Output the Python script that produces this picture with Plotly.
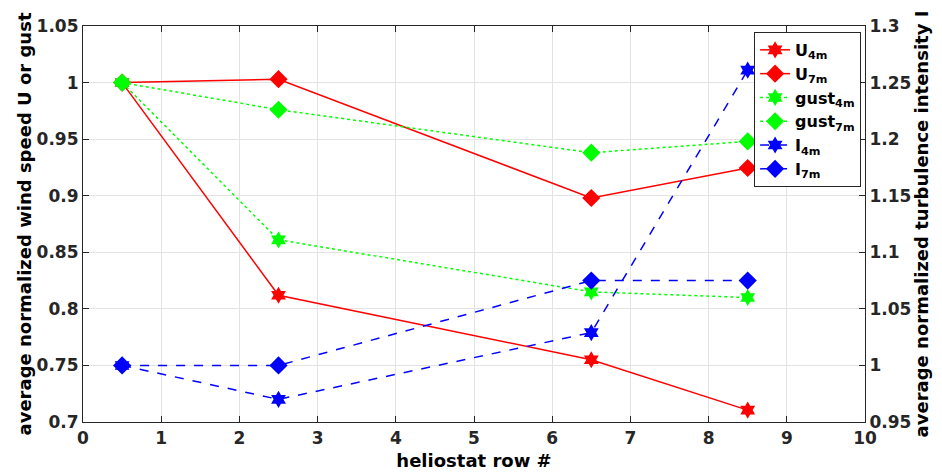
import plotly.graph_objects as go

rows = [0.5, 2.5, 6.5, 8.5]
U_4m = [1.0, 0.812, 0.755, 0.7105]
U_7m = [1.0, 1.003, 0.898, 0.9245]
gust_4m = [1.0, 0.861, 0.815, 0.81]
gust_7m = [1.0, 0.976, 0.938, 0.948]
I_4m = [1.0, 0.97, 1.029, 1.261]
I_7m = [1.0, 1.0, 1.075, 1.075]

x_ticks = [0, 1, 2, 3, 4, 5, 6, 7, 8, 9, 10]
y_ticks = [0.7, 0.75, 0.8, 0.85, 0.9, 0.95, 1.0, 1.05]
y_labels = ["0.7", "0.75", "0.8", "0.85", "0.9", "0.95", "1", "1.05"]
y2_ticks = [0.95, 1.0, 1.05, 1.1, 1.15, 1.2, 1.25, 1.3]
y2_labels = ["0.95", "1", "1.05", "1.1", "1.15", "1.2", "1.25", "1.3"]

FONT = "DejaVu Sans"
RED = "#ff0000"
GREEN = "#00ff00"
BLUE = "#0000ff"

fig = go.Figure()

def add(name, y, color, symbol, dash, axis, msize):
    fig.add_trace(go.Scatter(
        x=rows, y=y, name=name, mode="lines+markers", yaxis=axis,
        line=dict(color=color, width=1.5, dash=dash),
        marker=dict(symbol=symbol, size=msize, color=color, line=dict(width=0)),
    ))

add("U<sub>4m</sub>", U_4m, RED, "hexagram", "solid", "y", 13)
add("U<sub>7m</sub>", U_7m, RED, "diamond", "solid", "y", 14)
add("gust<sub>4m</sub>", gust_4m, GREEN, "hexagram", "dot", "y", 13)
add("gust<sub>7m</sub>", gust_7m, GREEN, "diamond", "dot", "y", 14)
add("I<sub>4m</sub>", I_4m, BLUE, "hexagram", "dash", "y2", 13)
add("I<sub>7m</sub>", I_7m, BLUE, "diamond", "dash", "y2", 14)

tickfont = dict(family=FONT, size=17, color="#262626", weight="bold")
titlefont = dict(family=FONT, size=18, color="#000000", weight="bold")

fig.update_layout(
    width=942, height=474,
    margin=dict(l=83, r=77, t=26, b=52, autoexpand=False),
    paper_bgcolor="white", plot_bgcolor="white",
    xaxis=dict(
        range=[0, 10], tickvals=x_ticks, ticks="inside", ticklen=6,
        tickcolor="#262626", tickwidth=1.2, automargin=False,
        showline=True, linecolor="#262626", linewidth=1.2, mirror="ticks",
        showgrid=True, gridcolor="#e3e3e3", gridwidth=1, zeroline=False,
        tickfont=tickfont,
        title=dict(text="heliostat row #", font=titlefont, standoff=7),
    ),
    yaxis=dict(
        range=[0.7, 1.05], tickvals=y_ticks, ticktext=y_labels,
        ticks="inside", ticklen=6, tickcolor="#262626", tickwidth=1.2,
        automargin=False,
        showline=True, linecolor="#262626", linewidth=1.2,
        showgrid=True, gridcolor="#e3e3e3", gridwidth=1, zeroline=False,
        tickfont=tickfont,
        title=dict(text="average normalized wind speed U or gust", font=titlefont, standoff=0),
    ),
    yaxis2=dict(
        range=[0.95, 1.3], tickvals=y2_ticks, ticktext=y2_labels,
        overlaying="y", side="right", automargin=False,
        ticks="inside", ticklen=6, tickcolor="#262626", tickwidth=1.2,
        showline=True, linecolor="#262626", linewidth=1.2,
        showgrid=False, zeroline=False,
        tickfont=tickfont,
        title=dict(text="average normalized turbulence intensity I", font=titlefont, standoff=2),
    ),
    legend=dict(
        x=0.995, y=0.985, xanchor="right", yanchor="top",
        bgcolor="white", bordercolor="#262626", borderwidth=1,
        font=dict(family=FONT, size=16, color="#000000", weight="bold"),
        tracegroupgap=0, itemwidth=30,
    ),
    showlegend=True,
)

fig.write_html("out.html",
               config={"displayModeBar": False},
               post_script="document.body.style.margin='0';document.body.style.overflow='hidden';")
